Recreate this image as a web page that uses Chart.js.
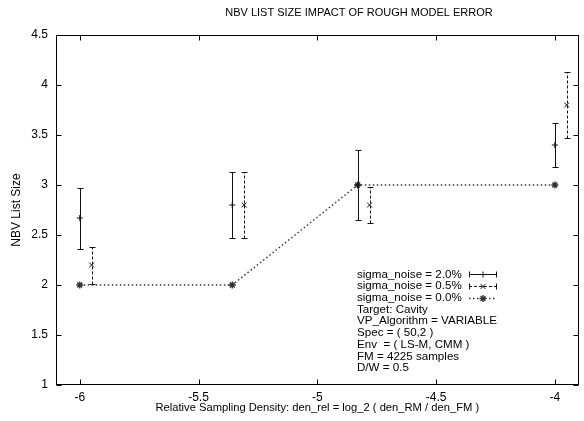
<!DOCTYPE html>
<html><head><meta charset="utf-8">
<script src="https://cdn.jsdelivr.net/npm/chart.js@4"></script>
<style>html,body{margin:0;padding:0;background:#fff;} canvas{display:block;}</style>
</head><body>
<canvas id="c" width="584" height="421"></canvas>
<script>
const TITLE = 'NBV LIST SIZE IMPACT OF ROUGH MODEL ERROR';
const X_TITLE = 'Relative Sampling Density: den_rel = log_2 ( den_RM / den_FM )';
const Y_TITLE = 'NBV List Size';
const xTicks = [-6, -5.5, -5, -4.5, -4];
const yTicks = [1, 1.5, 2, 2.5, 3, 3.5, 4, 4.5];
const seriesLabels = ['sigma_noise = 2.0%', 'sigma_noise = 0.5%', 'sigma_noise = 0.0%'];
const x20 = [-6, -5.358, -4.83, -4];
const mean20 = [2.67, 2.8, 3.0, 3.4];
const low20 = [2.36, 2.47, 2.65, 3.18];
const high20 = [2.97, 3.13, 3.35, 3.62];
const x05 = [-5.95, -5.308, -4.78, -3.95];
const mean05 = [2.2, 2.8, 2.8, 3.8];
const low05 = [2.01, 2.47, 2.62, 3.47];
const high05 = [2.38, 3.13, 2.98, 4.13];
const x00 = [-6, -5.358, -4.83, -4];
const mean00 = [2, 2, 3, 3];
const infoLines = ['Target: Cavity', 'VP_Algorithm = VARIABLE', 'Spec = ( 50,2 )', 'Env  = ( LS-M, CMM )', 'FM = 4225 samples', 'D/W = 0.5'];

const FONT = '"Liberation Sans", Arial, Helvetica, sans-serif';
const pts = (xs, ys) => xs.map((v, i) => ({x: v, y: ys[i]}));

const errorBarPlugin = {
  id: 'errbars',
  beforeDatasetsDraw(chart) {
    const {ctx, scales: {x, y}} = chart;
    chart.data.datasets.forEach(ds => {
      if (!ds.errLow) return;
      ctx.save();
      ctx.strokeStyle = ds.errColor; ctx.lineWidth = 1;
      ds.data.forEach((p, i) => {
        const px = Math.round(x.getPixelForValue(p.x)) + 0.5;
        const yl = Math.round(y.getPixelForValue(ds.errLow[i])) + 0.5;
        const yh = Math.round(y.getPixelForValue(ds.errHigh[i])) + 0.5;
        ctx.setLineDash(ds.errDash);
        ctx.beginPath(); ctx.moveTo(px, yl); ctx.lineTo(px, yh); ctx.stroke();
        ctx.setLineDash([]);
        ctx.beginPath();
        ctx.moveTo(px - 3, yl); ctx.lineTo(px + 3, yl);
        ctx.moveTo(px - 3, yh); ctx.lineTo(px + 3, yh);
        ctx.stroke();
      });
      ctx.restore();
    });
  }
};

const framePlugin = {
  id: 'frame',
  afterDraw(chart) {
    const {ctx, chartArea: a, scales: {x, y}} = chart;
    ctx.save();
    ctx.strokeStyle = '#000'; ctx.lineWidth = 1;
    const L = Math.round(a.left) + 0.5, R = Math.round(a.right) - 0.5;
    const T = Math.round(a.top) + 0.5, B = Math.round(a.bottom) - 0.5;
    ctx.strokeRect(L, T, R - L, B - T);
    const tl = 5;
    ctx.beginPath();
    xTicks.forEach(v => {
      const px = Math.round(x.getPixelForValue(v)) + 0.5;
      ctx.moveTo(px, B); ctx.lineTo(px, B - tl);
      ctx.moveTo(px, T); ctx.lineTo(px, T + tl);
    });
    yTicks.forEach(v => {
      const py = Math.round(y.getPixelForValue(v)) + 0.5;
      ctx.moveTo(L, py); ctx.lineTo(L + tl, py);
      ctx.moveTo(R, py); ctx.lineTo(R - tl, py);
    });
    ctx.stroke();

    // titles
    ctx.fillStyle = '#000';
    ctx.textAlign = 'center'; ctx.textBaseline = 'middle';
    ctx.font = '11px ' + FONT;
    ctx.fillText(TITLE, 359, 13);
    ctx.font = '11.2px ' + FONT;
    ctx.fillText(X_TITLE, (a.left + a.right) / 2, 408);
    ctx.save();
    ctx.translate(17, (a.top + a.bottom) / 2);
    ctx.rotate(-Math.PI / 2);
    ctx.font = '12px ' + FONT;
    ctx.fillText(Y_TITLE, 0, 0);
    ctx.restore();

    // legend / key
    const lineH = 11.7, y0 = 368 - lineH * 8, tx = 357;
    ctx.textAlign = 'left';
    ctx.font = '11.6px ' + FONT;
    const allLines = seriesLabels.concat(infoLines);
    allLines.forEach((t, i) => ctx.fillText(t, tx, y0 + i * lineH));
    const k1 = 469, k2 = 497, km = (k1 + k2) / 2;
    chart.data.datasets.forEach((ds, i) => {
      const ky = Math.round(y0 + i * lineH) + 0.5;
      ctx.strokeStyle = ds.errColor || ds.borderColor;
      ctx.lineWidth = ds.keyWidth || 1;
      ctx.setLineDash(ds.keyDash);
      ctx.beginPath(); ctx.moveTo(k1, ky); ctx.lineTo(k2, ky); ctx.stroke();
      ctx.setLineDash([]);
      if (ds.errLow) {
        ctx.lineWidth = 1;
        ctx.beginPath();
        ctx.moveTo(k1 + 0.5, ky - 3); ctx.lineTo(k1 + 0.5, ky + 3);
        ctx.moveTo(k2 - 0.5, ky - 3); ctx.lineTo(k2 - 0.5, ky + 3);
        ctx.stroke();
      }
      ctx.fillStyle = ds.borderColor;
      Chart.helpers.drawPoint(ctx, {pointStyle: ds.pointStyle, radius: ds.pointRadius, borderWidth: ds.borderWidth, rotation: 0}, km, ky);
    });
    ctx.restore();
  }
};

const fmt = v => String(Math.round(v * 100) / 100);

new Chart(document.getElementById('c'), {
  type: 'scatter',
  data: {
    datasets: [
      {label: seriesLabels[0], data: pts(x20, mean20), errLow: low20, errHigh: high20,
       errColor: '#111', errDash: [], keyDash: [], showLine: false,
       pointStyle: 'cross', pointRadius: 3, borderColor: '#111', backgroundColor: '#111', borderWidth: 1},
      {label: seriesLabels[1], data: pts(x05, mean05), errLow: low05, errHigh: high05,
       errColor: '#111', errDash: [3, 2], keyDash: [3, 2], showLine: false,
       pointStyle: 'crossRot', pointRadius: 3.5, borderColor: '#111', backgroundColor: '#111', borderWidth: 1},
      {label: seriesLabels[2], data: pts(x00, mean00), showLine: true, borderDash: [1.5, 2.5],
       keyDash: [1.5, 2.5], keyWidth: 1.3,
       pointStyle: 'star', pointRadius: 3.5, borderColor: '#333', backgroundColor: '#333', borderWidth: 1.4}
    ]
  },
  options: {
    responsive: false, animation: false, events: [],
    layout: {padding: {top: 35, right: 2, left: 0, bottom: 0}},
    plugins: {legend: {display: false}, tooltip: {enabled: false}, title: {display: false}},
    elements: {line: {tension: 0}},
    scales: {
      x: {type: 'linear', min: -6.1, max: -3.9,
          afterBuildTicks: s => { s.ticks = xTicks.map(v => ({value: v})); },
          afterFit: s => { s.height = 36; },
          grid: {display: false, drawTicks: false}, border: {display: false},
          ticks: {padding: 5, color: '#000', font: {family: FONT, size: 12}, maxRotation: 0, callback: fmt}},
      y: {type: 'linear', min: 1, max: 4.5,
          afterBuildTicks: s => { s.ticks = yTicks.map(v => ({value: v})); },
          afterFit: s => { s.width = 56; },
          grid: {display: false, drawTicks: false}, border: {display: false},
          ticks: {padding: 8, color: '#000', font: {family: FONT, size: 12}, callback: fmt}}
    }
  },
  plugins: [errorBarPlugin, framePlugin]
});
</script>
</body></html>
